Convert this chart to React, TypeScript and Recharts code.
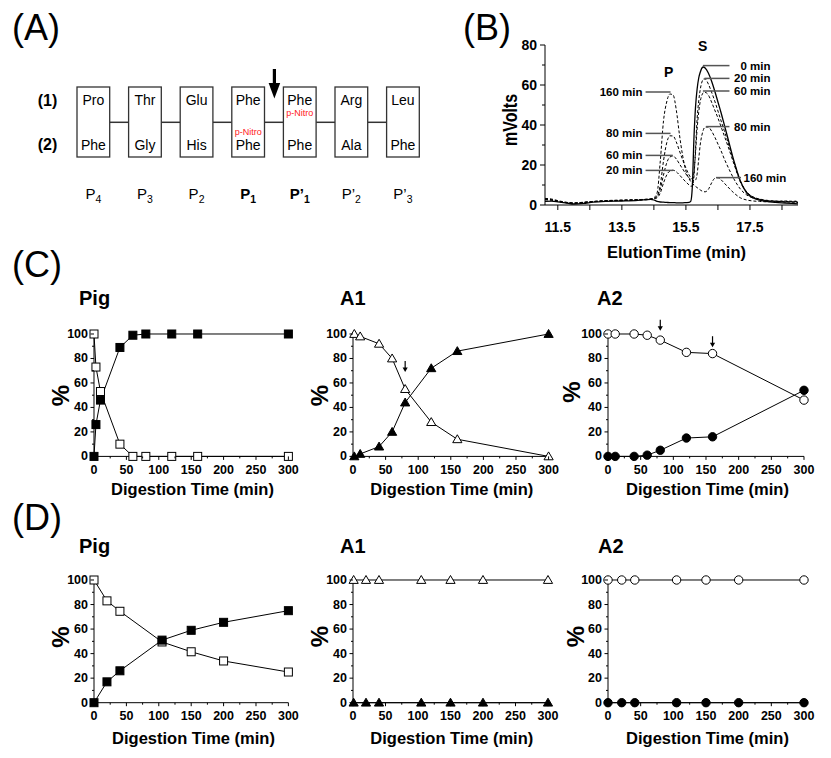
import React from 'react';
import { LineChart, Line, XAxis, YAxis, ReferenceLine, ReferenceDot } from 'recharts';

const FONT = '"Liberation Sans", Arial, Helvetica, sans-serif';

// ---------------- Panel A (peptide substrates) ----------------
const residuesTop = ['Pro', 'Thr', 'Glu', 'Phe', 'Phe', 'Arg', 'Leu'];
const residuesBottom = ['Phe', 'Gly', 'His', 'Phe', 'Phe', 'Ala', 'Phe'];
const siteNames = ['P', 'P', 'P', 'P', 'P\u2019', 'P\u2019', 'P\u2019'];
const siteSubs = ['4', '3', '2', '1', '1', '2', '3'];
const siteBold = [false, false, false, true, true, false, false];
const rowLabels = ['(1)', '(2)'];
const nitroTopIndex = 4;
const nitroBottomIndex = 3;

// ---------------- Panel B (chromatograms) ----------------
const elutionTime = [11.1, 11.3, 11.5, 11.8, 12.0, 12.3, 12.6, 13.0, 13.5, 14.0, 14.4, 14.5, 14.6, 14.7, 14.8, 14.9, 15.0, 15.1, 15.2, 15.3, 15.4, 15.5, 15.6, 15.65, 15.7, 15.75, 15.8, 15.85, 15.9, 15.95, 16.0, 16.05, 16.1, 16.2, 16.3, 16.4, 16.5, 16.6, 16.7, 16.8, 17.0, 17.2, 17.4, 17.6, 17.8, 18.0, 18.3, 18.6, 19.0];
const trace0 = [1.8, 1.9, 1.6, 0.9, 0.5, 0.8, 1.4, 1.8, 2.0, 2.3, 2.8, 2.5, 1.8, 1.5, 1.4, 1.3, 1.2, 1.2, 1.1, 1.1, 1.1, 1.2, 1.3, 1.8, 9, 33, 49, 58, 63.5, 66.5, 68.5, 69, 68.5, 66, 62, 57, 51.5, 46, 40, 34, 22, 12, 6, 3.5, 2.4, 1.8, 1.3, 1.0, 0.6];
const trace20 = [2.8, 2.5, 1.8, 1.0, 0.8, 1.2, 1.6, 2.0, 2.2, 2.4, 2.8, 3.0, 3.6, 6, 11, 15, 17, 17.4, 16.6, 15, 13.2, 11.5, 10, 9.4, 9.5, 14, 28, 43, 52, 58, 61.5, 63, 63, 60.5, 56.5, 52, 47, 42, 37, 32, 21.5, 12, 6.5, 4, 2.8, 2.2, 1.8, 1.6, 1.2];
const trace60 = [3.0, 2.7, 2.0, 1.1, 0.9, 1.2, 1.7, 2.1, 2.3, 2.6, 3.0, 3.2, 4.2, 8, 15, 21, 24, 24.5, 23, 20.5, 18, 15.5, 13.5, 12.8, 12.5, 16, 26, 38, 46.5, 52, 55, 56.2, 56.3, 55, 51.5, 47.5, 43.5, 39, 34.5, 30, 20.5, 11.5, 6.5, 4.0, 3.0, 2.4, 2.0, 1.8, 1.4];
const trace80 = [2.6, 2.4, 1.8, 1.2, 1.0, 1.3, 1.7, 2.0, 2.3, 2.6, 3.0, 3.3, 4.5, 10, 22, 31, 34.6, 34.5, 31.5, 27, 22.5, 18.5, 15, 13.7, 12.8, 12.2, 12.5, 15.5, 23, 30.5, 35, 37.8, 39, 39, 37, 34, 30.5, 27, 23, 19.5, 13, 8, 5, 3.5, 2.8, 2.2, 1.8, 2.0, 1.6];
const trace160 = [3.3, 3.0, 2.2, 1.3, 1.0, 1.4, 1.8, 2.2, 2.5, 2.7, 3.0, 3.6, 6, 22, 42, 51.5, 55.5, 55, 47.5, 35, 24.5, 17, 13, 11.8, 10.8, 10, 9.3, 8.7, 8.1, 7.5, 7.0, 6.7, 6.6, 7.8, 11, 13.3, 13.6, 12.6, 10.9, 9.2, 6.0, 3.6, 2.5, 2.0, 1.8, 1.6, 1.9, 1.5, 2.1];
const chromTicksX = [11.5, 12.5, 13.5, 14.5, 15.5, 16.5, 17.5, 18.5];
const chromLabelsX = [11.5, 13.5, 15.5, 17.5];
const chromTicksY = [0, 10, 20, 30, 40, 50, 60, 70, 80];
const chromLabelsY = [0, 20, 40, 60, 80];
// peak annotations (data coordinates)
const leftNoteText = ['160 min', '80 min', '60 min', '20 min'];
const leftNoteY = [56.5, 35.8, 24.8, 17.3];
const leftNoteFrom = [14.24, 14.24, 14.24, 14.24];
const leftNoteTo = [15.02, 15.02, 15.09, 15.09];
const rightNoteText = ['0 min', '20 min', '60 min', '80 min', '160 min'];
const rightNoteY = [69.7, 63.3, 57, 39.2, 13.7];
const rightNoteFrom = [16.03, 16.08, 16.03, 16.13, 16.44];
const rightNoteTo = [16.86, 16.86, 16.86, 16.86, 17.22];

// ---------------- Panels C and D (digestion kinetics, %) ----------------
const kinTicksX = [0, 25, 50, 75, 100, 125, 150, 175, 200, 225, 250, 275, 300];
const kinLabelsX = [0, 50, 100, 150, 200, 250, 300];
const kinTicksY = [0, 10, 20, 30, 40, 50, 60, 70, 80, 90, 100];
const kinLabelsY = [0, 20, 40, 60, 80, 100];

const cPigTime = [0, 3, 10, 40, 60, 80, 120, 160, 300];
const cPigSubstrate = [100, 73, 53, 10, 0, 0, 0, 0, 0];
const cPigProduct = [0, 26, 46, 89, 99, 100, 100, 100, 100];
const cA1Time = [2, 11, 40, 60, 80, 120, 160, 300];
const cA1Substrate = [100, 98, 92, 80, 55, 28, 14, 0];
const cA1Product = [0, 2, 8, 20, 44, 72, 86, 100];
const cA2Time = [0, 11, 40, 60, 80, 120, 160, 300];
const cA2Substrate = [100, 100, 100, 99, 95, 85, 84, 46];
const cA2Product = [0, 0, 0, 1, 5, 15, 16, 54];
const cA1Arrows = [{ t: 80, v: 69 }];
const cA2Arrows = [{ t: 80, v: 102.7 }, { t: 160, v: 89.2 }];

const dPigTime = [0, 20, 40, 105, 150, 200, 300];
const dPigSubstrate = [100, 83, 74.5, 49.5, 41.5, 34, 25];
const dPigProduct = [0, 17, 26, 51, 59, 65.5, 75];
const dA1Time = [1, 20, 40, 105, 150, 200, 300];
const dA1Substrate = [100, 100, 100, 100, 100, 100, 100];
const dA1Product = [0, 0, 0, 0, 0, 0, 0];
const dA2Time = [0, 21, 41, 105, 150, 200, 300];
const dA2Substrate = [100, 100, 100, 100, 100, 100, 100];
const dA2Product = [0, 0, 0, 0, 0, 0, 0];

// ---------------- helpers ----------------
const near = (arr: number[], v: number) => arr.some((a) => Math.abs(a - v) < 1e-6);

function makeXTick(labels: number[], major: number, minor: number, offset: number, fs: number, fmt: (v: number) => string) {
  return (props: any) => {
    const { x, y, payload } = props;
    const v = payload.value;
    const lab = near(labels, v);
    return (
      <g>
        <line x1={x} y1={y} x2={x} y2={y + (lab ? major : minor)} stroke="#000" strokeWidth={1} />
        {lab && (
          <text x={x} y={y + offset} textAnchor="middle" dominantBaseline="central" fontSize={fs} fontWeight="bold" fontFamily={FONT} fill="#000">
            {fmt(v)}
          </text>
        )}
      </g>
    );
  };
}

function makeYTick(labels: number[], major: number, minor: number, gap: number, fs: number) {
  return (props: any) => {
    const { x, y, payload } = props;
    const v = payload.value;
    const lab = near(labels, v);
    return (
      <g>
        <line x1={x - (lab ? major : minor)} y1={y} x2={x} y2={y} stroke="#000" strokeWidth={1} />
        {lab && (
          <text x={x - major - gap} y={y} textAnchor="end" dominantBaseline="central" fontSize={fs} fontWeight="bold" fontFamily={FONT} fill="#000">
            {String(v)}
          </text>
        )}
      </g>
    );
  };
}

const chromXTick = makeXTick(chromLabelsX, 5, 5, 21.5, 14, (v) => v.toFixed(1));
const chromYTick = makeYTick(chromLabelsY, 5, 3, 3, 14);
const kinXTick = makeXTick(kinLabelsX, 3.5, 2, 13.6, 12.5, (v) => String(v));
const kinYTick = makeYTick(kinLabelsY, 3.5, 2, 2.5, 12.5);

function makeDot(shape: string, filled: boolean, tag: string) {
  return (props: any) => {
    const { cx, cy, index } = props;
    const key = `${tag}-${index}`;
    if (cx == null || cy == null) return <g key={key} />;
    const fill = filled ? '#000' : '#fff';
    if (shape === 'square') {
      return <rect key={key} x={cx - 4} y={cy - 4} width={8} height={8} fill={fill} stroke="#000" strokeWidth={1} />;
    }
    if (shape === 'triangle') {
      return <polygon key={key} points={`${cx},${cy - 4.5} ${cx + 4.6},${cy + 3.4} ${cx - 4.6},${cy + 3.4}`} fill={fill} stroke="#000" strokeWidth={1} />;
    }
    return <circle key={key} cx={cx} cy={cy} r={4.2} fill={fill} stroke="#000" strokeWidth={1} />;
  };
}

const arrowShape = (p: any) => {
  const { cx, cy } = p;
  return (
    <g>
      <line x1={cx} y1={cy - 11} x2={cx} y2={cy - 3} stroke="#000" strokeWidth={1.2} />
      <polygon points={`${cx - 2.6},${cy - 4.5} ${cx + 2.6},${cy - 4.5} ${cx},${cy}`} fill="#000" />
    </g>
  );
};

type KinProps = {
  x0: number; x1: number; y0: number; y1: number;
  time: number[]; substrate: number[]; product: number[];
  shape: string; tag: string; arrows?: { t: number; v: number }[];
};

function Kinetics({ x0, x1, y0, y1, time, substrate, product, shape, tag, arrows = [] }: KinProps) {
  const L = 44, R = 14, T = 18, B = 26;
  const rows = time.map((t, i) => ({ t, s: substrate[i], p: product[i] }));
  return (
    <div style={{ position: 'absolute', left: x0 - L, top: y0 - T }}>
      <LineChart width={x1 - x0 + L + R} height={y1 - y0 + T + B} data={rows} margin={{ top: T, right: R, bottom: 0, left: 0 }}>
        <XAxis dataKey="t" type="number" domain={[0, 300]} ticks={kinTicksX} interval={0} tickLine={false} tickSize={0} tickMargin={0} axisLine={{ stroke: '#000', strokeWidth: 1 }} height={B} tick={kinXTick} />
        <YAxis type="number" domain={[0, 100]} ticks={kinTicksY} interval={0} tickLine={false} tickSize={0} tickMargin={0} axisLine={{ stroke: '#000', strokeWidth: 1 }} width={L} tick={kinYTick} />
        <Line dataKey="s" type="linear" stroke="#000" strokeWidth={1} dot={makeDot(shape, false, tag + 's')} activeDot={false} isAnimationActive={false} />
        <Line dataKey="p" type="linear" stroke="#000" strokeWidth={1} dot={makeDot(shape, true, tag + 'p')} activeDot={false} isAnimationActive={false} />
        {arrows.map((a, i) => (
          <ReferenceDot key={`arr-${i}`} x={a.t} y={a.v} r={0} ifOverflow="visible" shape={arrowShape} />
        ))}
      </LineChart>
    </div>
  );
}

const chromRows = elutionTime.map((t, i) => ({
  t, m0: trace0[i], m20: trace20[i], m60: trace60[i], m80: trace80[i], m160: trace160[i],
}));

function Chromatogram() {
  const L = 50, R = 12, T = 12, B = 34;
  const x0 = 545, x1 = 798, y0 = 45, y1 = 205;
  const noteStyle = { fontSize: 11.5, fontWeight: 'bold' as const, fontFamily: FONT, fill: '#000' };
  return (
    <div style={{ position: 'absolute', left: x0 - L, top: y0 - T }}>
      <LineChart width={x1 - x0 + L + R} height={y1 - y0 + T + B} data={chromRows} margin={{ top: T, right: R, bottom: 0, left: 0 }}>
        <XAxis dataKey="t" type="number" domain={[11.1, 19.0]} ticks={chromTicksX} interval={0} tickLine={false} tickSize={0} tickMargin={0} axisLine={{ stroke: '#000', strokeWidth: 1 }} height={B} tick={chromXTick} />
        <YAxis type="number" domain={[0, 80]} ticks={chromTicksY} interval={0} tickLine={false} tickSize={0} tickMargin={0} axisLine={{ stroke: '#000', strokeWidth: 1 }} width={L} tick={chromYTick} />
        <Line dataKey="m160" type="monotone" stroke="#000" strokeWidth={1} strokeDasharray="3 2" dot={false} activeDot={false} isAnimationActive={false} />
        <Line dataKey="m80" type="monotone" stroke="#000" strokeWidth={1} strokeDasharray="3 2" dot={false} activeDot={false} isAnimationActive={false} />
        <Line dataKey="m60" type="monotone" stroke="#000" strokeWidth={1} strokeDasharray="3 2" dot={false} activeDot={false} isAnimationActive={false} />
        <Line dataKey="m20" type="monotone" stroke="#000" strokeWidth={1} strokeDasharray="3 2" dot={false} activeDot={false} isAnimationActive={false} />
        <Line dataKey="m0" type="monotone" stroke="#000" strokeWidth={1.3} dot={false} activeDot={false} isAnimationActive={false} />
        {leftNoteText.map((txt, i) => (
          <ReferenceLine key={`ll-${i}`} segment={[{ x: leftNoteFrom[i], y: leftNoteY[i] }, { x: leftNoteTo[i], y: leftNoteY[i] }]} stroke="#555" strokeWidth={1.5} ifOverflow="visible" />
        ))}
        {rightNoteText.map((txt, i) => (
          <ReferenceLine key={`rl-${i}`} segment={[{ x: rightNoteFrom[i], y: rightNoteY[i] }, { x: rightNoteTo[i], y: rightNoteY[i] }]} stroke="#555" strokeWidth={1.5} ifOverflow="visible" />
        ))}
        {leftNoteText.map((txt, i) => (
          <ReferenceDot key={`lt-${i}`} x={leftNoteFrom[i]} y={leftNoteY[i]} r={0} ifOverflow="visible"
            shape={(p: any) => <text x={p.cx - 3} y={p.cy} textAnchor="end" dominantBaseline="central" {...noteStyle}>{txt}</text>} />
        ))}
        {rightNoteText.map((txt, i) => (
          <ReferenceDot key={`rt-${i}`} x={rightNoteTo[i]} y={rightNoteY[i]} r={0} ifOverflow="visible"
            shape={(p: any) => i === rightNoteText.length - 1
              ? <text x={p.cx + 2.5} y={p.cy} textAnchor="start" dominantBaseline="central" {...noteStyle}>{txt}</text>
              : <text x={p.cx + 41} y={p.cy} textAnchor="end" dominantBaseline="central" {...noteStyle}>{txt}</text>} />
        ))}
      </LineChart>
    </div>
  );
}

function Overlay() {
  const boxW = 32.7;
  const boxTop = 87;
  const boxH = 70;
  const step = 51.6;
  const firstLeft = 77;
  const letter = { fontSize: 36, fontFamily: FONT, fill: '#000' };
  const title = { fontSize: 20, fontWeight: 'bold' as const, fontFamily: FONT, fill: '#000' };
  const axTitle = { fontSize: 16.5, fontWeight: 'bold' as const, fontFamily: FONT, fill: '#000' };
  const pct = [
    [60, 395.5], [319, 395.5], [571, 392],
    [60, 637], [319, 636.5], [575, 636.5],
  ];
  const digCenters = [
    [192.5, 495], [451.8, 495], [707.5, 495],
    [193.5, 743.5], [451.8, 743.5], [707.5, 743.5],
  ];
  return (
    <svg width={831} height={758} style={{ position: 'absolute', left: 0, top: 0, pointerEvents: 'none' }}>
      {/* panel letters */}
      <text x={12} y={40} {...letter}>(A)</text>
      <text x={463} y={40} {...letter}>(B)</text>
      <text x={12} y={277} {...letter}>(C)</text>
      <text x={12} y={530} {...letter}>(D)</text>

      {/* Panel A */}
      {residuesTop.map((r, i) => {
        const left = firstLeft + i * step;
        const cx = left + boxW / 2;
        return (
          <g key={`box-${i}`}>
            {i < residuesTop.length - 1 && (
              <line x1={left + boxW} y1={122.3} x2={left + step} y2={122.3} stroke="#333" strokeWidth={1.5} />
            )}
            <rect x={left} y={boxTop} width={boxW} height={boxH} fill="#fff" stroke="#333" strokeWidth={1.3} />
            <text x={cx} y={99.5} textAnchor="middle" dominantBaseline="central" fontSize={14} fontFamily={FONT} fill="#000">{r}</text>
            <text x={cx} y={144.5} textAnchor="middle" dominantBaseline="central" fontSize={14} fontFamily={FONT} fill="#000">{residuesBottom[i]}</text>
            {i === nitroTopIndex && (
              <text x={cx} y={113} textAnchor="middle" dominantBaseline="central" fontSize={9} fontFamily={FONT} fill="#ff2020">p-Nitro</text>
            )}
            {i === nitroBottomIndex && (
              <text x={cx} y={132} textAnchor="middle" dominantBaseline="central" fontSize={9} fontFamily={FONT} fill="#ff2020">p-Nitro</text>
            )}
            <text x={cx} y={199} textAnchor="middle" fontSize={15} fontFamily={FONT} fontWeight={siteBold[i] ? 'bold' : 'normal'} fill="#000">
              <tspan>{siteNames[i]}</tspan>
              <tspan fontSize={10.5} dy={4}>{siteSubs[i]}</tspan>
            </text>
          </g>
        );
      })}
      {rowLabels.map((r, i) => (
        <text key={r} x={47.5} y={i === 0 ? 100.5 : 144.5} textAnchor="middle" dominantBaseline="central" fontSize={16} fontWeight="bold" fontFamily={FONT} fill="#000">{r}</text>
      ))}
      <rect x={272.8} y={69} width={3.2} height={17} fill="#000" />
      <polygon points="268.6,83 280.2,83 274.4,98.5" fill="#000" />

      {/* Panel B labels */}
      <text x={668.7} y={77.3} textAnchor="middle" fontSize={14} fontWeight="bold" fontFamily={FONT} fill="#000">P</text>
      <text x={702.7} y={50.7} textAnchor="middle" fontSize={14} fontWeight="bold" fontFamily={FONT} fill="#000">S</text>
      <text transform="translate(510,120) rotate(-90) scale(1,1.3)" textAnchor="middle" dominantBaseline="central" fontSize={16} fontWeight="bold" fontFamily={FONT} fill="#000">mVolts</text>
      <text x={676.5} y={258} textAnchor="middle" {...axTitle}>ElutionTime (min)</text>

      {/* Panel C/D titles */}
      <text x={79} y={305} {...title}>Pig</text>
      <text x={340} y={305} {...title}>A1</text>
      <text x={597} y={305} {...title}>A2</text>
      <text x={79} y={553} {...title}>Pig</text>
      <text x={340} y={553} {...title}>A1</text>
      <text x={598} y={553} {...title}>A2</text>

      {pct.map(([x, y], i) => (
        <text key={`pct-${i}`} transform={`translate(${x},${y}) rotate(-90)`} textAnchor="middle" dominantBaseline="central" fontSize={24} fontWeight="bold" fontFamily={FONT} fill="#000">%</text>
      ))}
      {digCenters.map(([x, y], i) => (
        <text key={`dig-${i}`} x={x} y={y} textAnchor="middle" {...axTitle}>Digestion Time (min)</text>
      ))}
    </svg>
  );
}

export default function App() {
  return (
    <div style={{ position: 'absolute', left: 0, top: 0, width: 831, height: 758, background: '#fff', fontFamily: FONT, overflow: 'hidden' }}>
      <style>{`.recharts-surface { overflow: visible; }`}</style>
      <Chromatogram />
      <Kinetics x0={94.3} x1={288.7} y0={334.3} y1={456.7} time={cPigTime} substrate={cPigSubstrate} product={cPigProduct} shape="square" tag="cpig" />
      <Kinetics x0={352.7} x1={548.3} y0={334.3} y1={456.7} time={cA1Time} substrate={cA1Substrate} product={cA1Product} shape="triangle" tag="ca1" arrows={cA1Arrows} />
      <Kinetics x0={608.3} x1={804.3} y0={334.3} y1={456.7} time={cA2Time} substrate={cA2Substrate} product={cA2Product} shape="circle" tag="ca2" arrows={cA2Arrows} />
      <Kinetics x0={94.3} x1={288.7} y0={580} y1={702.7} time={dPigTime} substrate={dPigSubstrate} product={dPigProduct} shape="square" tag="dpig" />
      <Kinetics x0={353.3} x1={548.3} y0={580} y1={702.7} time={dA1Time} substrate={dA1Substrate} product={dA1Product} shape="triangle" tag="da1" />
      <Kinetics x0={608.3} x1={804.3} y0={580} y1={702.7} time={dA2Time} substrate={dA2Substrate} product={dA2Product} shape="circle" tag="da2" />
      <Overlay />
    </div>
  );
}
